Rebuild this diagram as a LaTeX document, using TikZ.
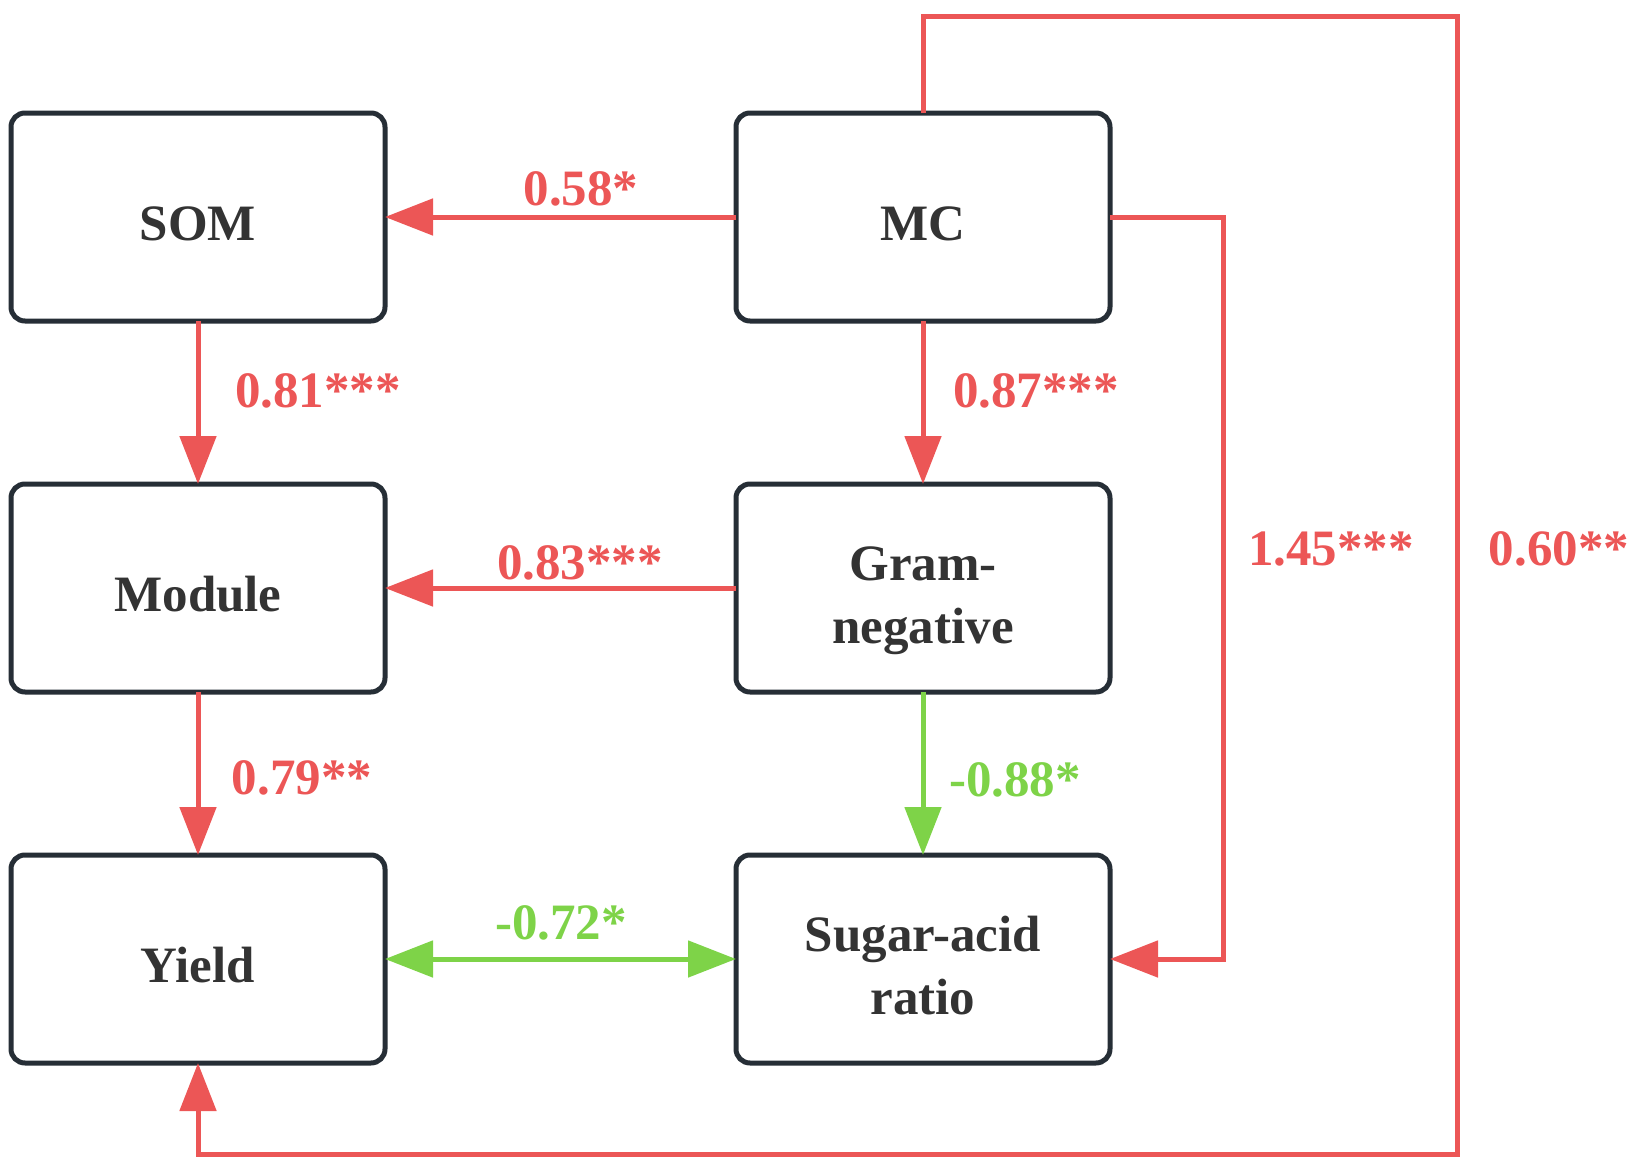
\documentclass[tikz,border=0pt]{standalone}
\usepackage{fontspec}
\setmainfont{Liberation Serif}
\usetikzlibrary{arrows.meta}
\definecolor{redl}{HTML}{EC5656}
\definecolor{greenl}{HTML}{7ED348}
\definecolor{boxc}{HTML}{262E36}
\definecolor{txtc}{HTML}{333333}
\tikzset{
  varbox/.style={draw=boxc, line width=5pt, rounded corners=14pt, minimum width=374pt, minimum height=208pt, inner sep=0pt, outer sep=0pt, align=center, text=txtc, text height=46pt, text depth=0pt, font=\fontsize{51}{63}\selectfont\bfseries},
  twoline/.style={text height=110pt, text depth=0pt},
  redarr/.style={draw=redl, line width=5pt, -{Triangle[length=48pt,width=36pt]}},
  greenarr/.style={draw=greenl, line width=5pt, -{Triangle[length=48pt,width=36pt]}},
  redlab/.style={text=redl, font=\fontsize{51}{60}\selectfont\bfseries, inner sep=0pt},
  greenlab/.style={text=greenl, font=\fontsize{51}{60}\selectfont\bfseries, inner sep=0pt}
}
\begin{document}
\begin{tikzpicture}[x=1pt,y=-1pt]
\useasboundingbox (0,0) rectangle (1642,1172);
\node[varbox] (som) at (198,217) {SOM};
\node[varbox] (mc) at (923,217) {MC};
\node[varbox] (mod) at (198,588) {Module};
\node[varbox, twoline] (gram) at (923,588) {Gram-\\negative};
\node[varbox] (yld) at (198,959) {Yield};
\node[varbox, twoline] (sug) at (923,959) {Sugar-acid\\ratio};
\coordinate (c1) at (1223,217);
\coordinate (c2) at (1223,959);
\coordinate (t1) at (923,17);
\coordinate (t2) at (1457,17);
\coordinate (t3) at (1457,1154);
\coordinate (t4) at (198,1154);
\draw[redarr] (mc.west) -- (som.east);
\draw[redarr] (som.south) -- (mod.north);
\draw[redarr] (mc.south) -- (gram.north);
\draw[redarr] (gram.west) -- (mod.east);
\draw[redarr] (mod.south) -- (yld.north);
\draw[greenarr] (gram.south) -- (sug.north);
\draw[greenarr, {Triangle[length=48pt,width=36pt]}-{Triangle[length=48pt,width=36pt]}] (yld.east) -- (sug.west);
\draw[redarr] (mc.east) -- (c1) -- (c2) -- (sug.east);
\draw[redarr] (mc.north) -- (t1) -- (t2) -- (t3) -- (t4) -- (yld.south);
\node[redlab] (l1) at (581,189) {0.58*};
\node[redlab] (l2) at (318,391) {0.81***};
\node[redlab] (l3) at (1036,391) {0.87***};
\node[redlab] (l4) at (580,563) {0.83***};
\node[redlab] (l5) at (1331,549) {1.45***};
\node[redlab] (l6) at (1559,549) {0.60**};
\node[redlab] (l7) at (302,778) {0.79**};
\node[greenlab] (l8) at (1015,780) {-0.88*};
\node[greenlab] (l9) at (561,923) {-0.72*};
\end{tikzpicture}
\end{document}
